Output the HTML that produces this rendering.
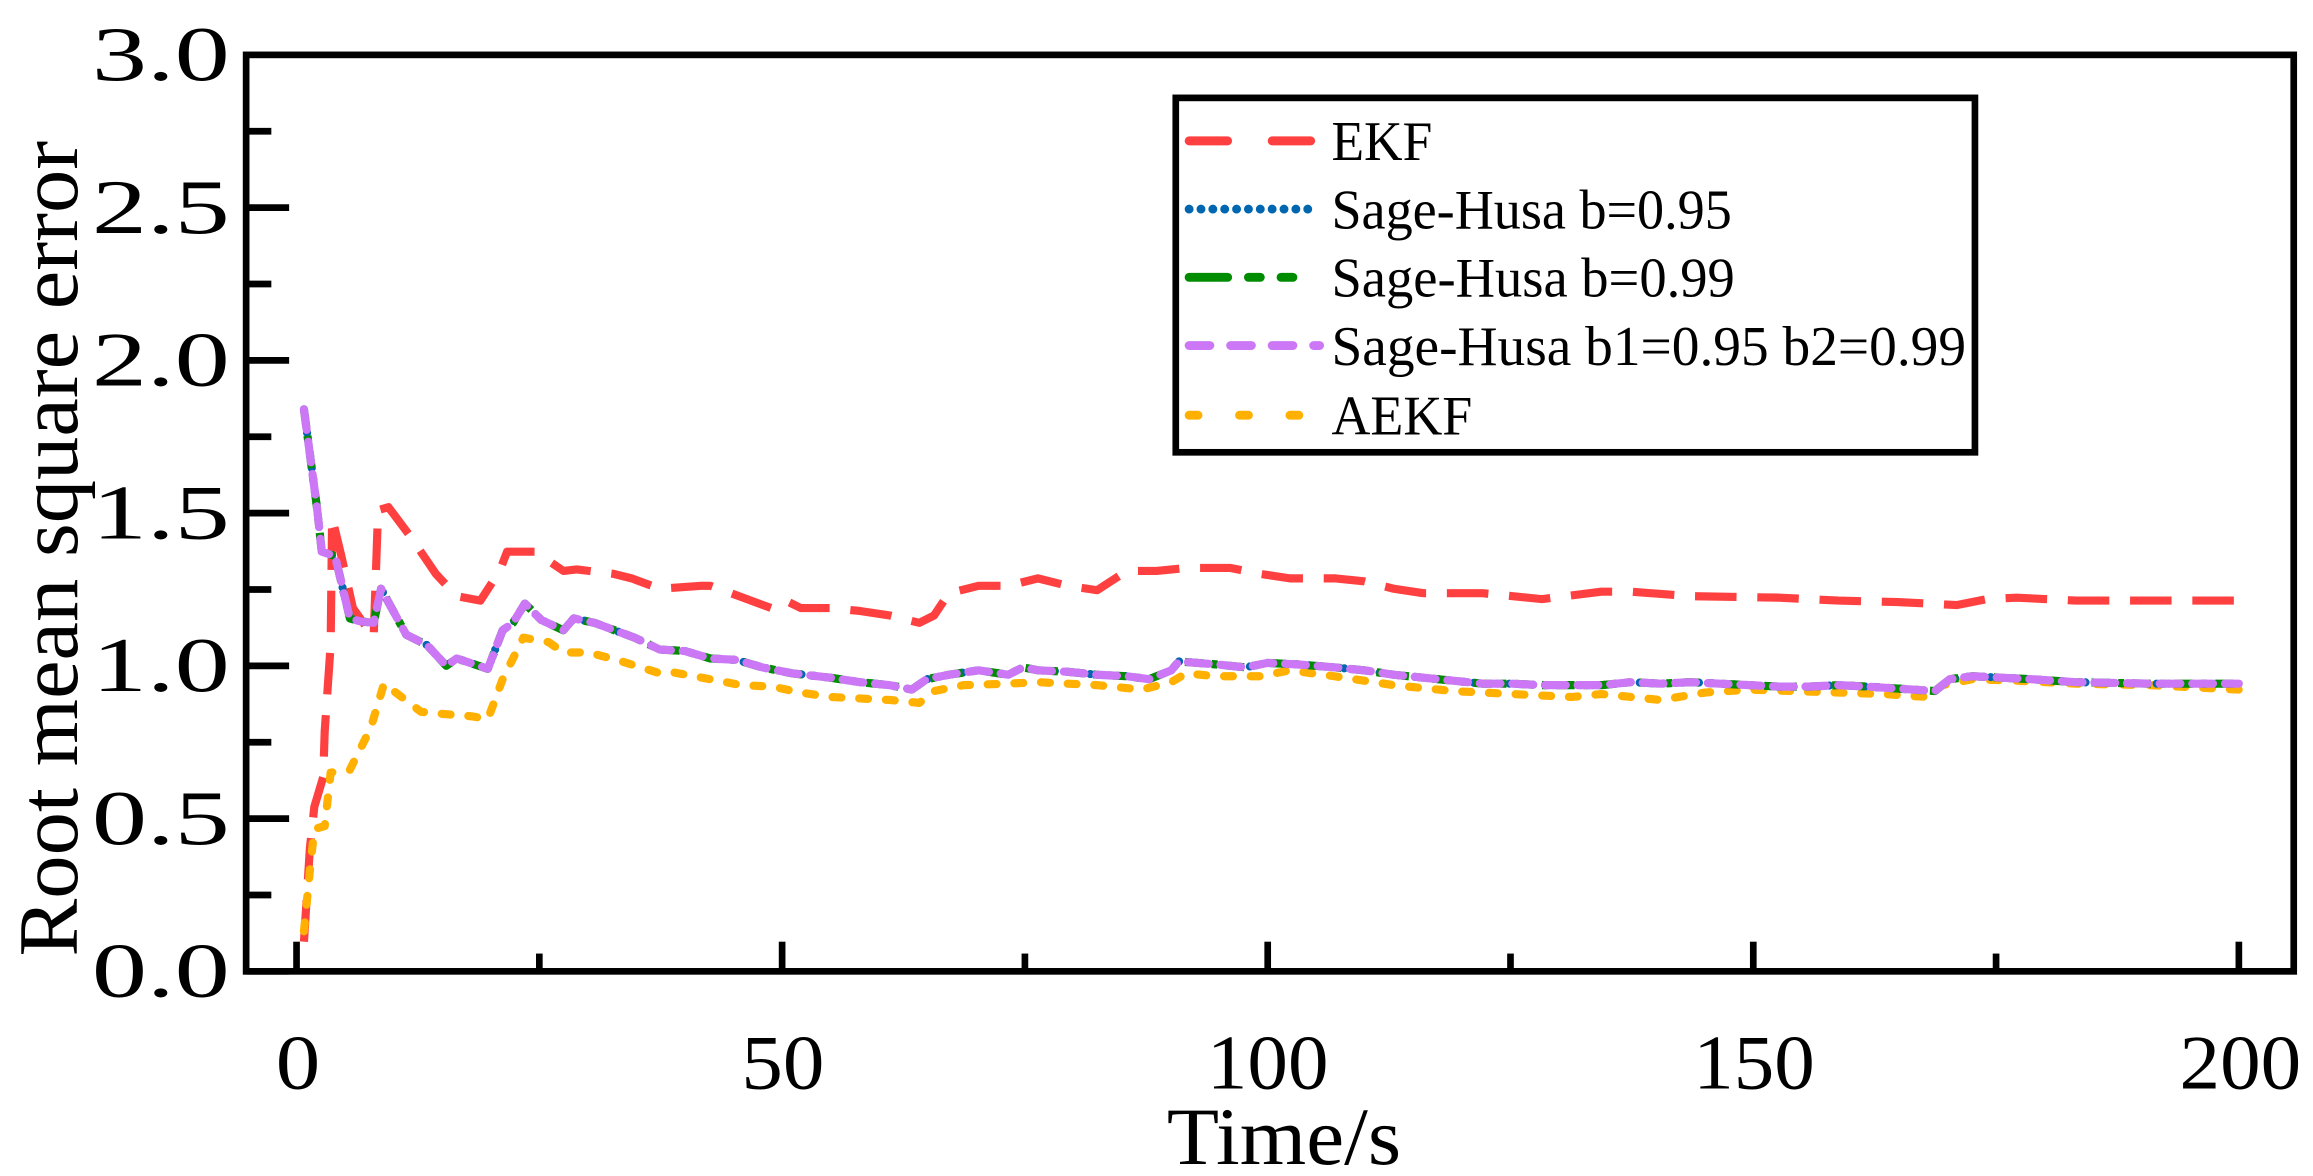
<!DOCTYPE html>
<html><head><meta charset="utf-8"><style>html,body{margin:0;padding:0;background:#fff}svg{display:block}</style></head>
<body>
<svg width="2313" height="1176" viewBox="0 0 1560 793" preserveAspectRatio="none" xmlns="http://www.w3.org/2000/svg" font-family="Liberation Serif, serif">
<rect width="1560" height="793" fill="#fff"/>
<g stroke="#000" stroke-width="4.5">
<line x1="166" y1="655" x2="195" y2="655"/><line x1="166" y1="552" x2="195" y2="552"/><line x1="166" y1="449" x2="195" y2="449"/><line x1="166" y1="346" x2="195" y2="346"/><line x1="166" y1="243" x2="195" y2="243"/><line x1="166" y1="140" x2="195" y2="140"/>
<line x1="166" y1="603.5" x2="183" y2="603.5"/><line x1="166" y1="500.5" x2="183" y2="500.5"/><line x1="166" y1="397.5" x2="183" y2="397.5"/><line x1="166" y1="294.5" x2="183" y2="294.5"/><line x1="166" y1="191.5" x2="183" y2="191.5"/><line x1="166" y1="88.5" x2="183" y2="88.5"/>
<line x1="200" y1="655" x2="200" y2="635"/><line x1="527.5" y1="655" x2="527.5" y2="635"/><line x1="855" y1="655" x2="855" y2="635"/><line x1="1182.5" y1="655" x2="1182.5" y2="635"/><line x1="1510" y1="655" x2="1510" y2="635"/>
<line x1="363.75" y1="655" x2="363.75" y2="643"/><line x1="691.25" y1="655" x2="691.25" y2="643"/><line x1="1018.75" y1="655" x2="1018.75" y2="643"/><line x1="1346.25" y1="655" x2="1346.25" y2="643"/>
</g>
<g font-size="52" fill="#000">
<text x="62" y="672" textLength="93" lengthAdjust="spacingAndGlyphs">0.0</text>
<text x="62" y="569" textLength="93" lengthAdjust="spacingAndGlyphs">0.5</text>
<text x="62" y="466" textLength="93" lengthAdjust="spacingAndGlyphs">1.0</text>
<text x="62" y="363" textLength="93" lengthAdjust="spacingAndGlyphs">1.5</text>
<text x="62" y="260" textLength="93" lengthAdjust="spacingAndGlyphs">2.0</text>
<text x="62" y="157" textLength="93" lengthAdjust="spacingAndGlyphs">2.5</text>
<text x="62" y="54" textLength="93" lengthAdjust="spacingAndGlyphs">3.0</text>
</g>
<g font-size="52" fill="#000">
<text x="186" y="734" textLength="30" lengthAdjust="spacingAndGlyphs">0</text>
<text x="500" y="734" textLength="56" lengthAdjust="spacingAndGlyphs">50</text>
<text x="814" y="734" textLength="82" lengthAdjust="spacingAndGlyphs">100</text>
<text x="1142" y="734" textLength="82" lengthAdjust="spacingAndGlyphs">150</text>
<text x="1470" y="734" textLength="82" lengthAdjust="spacingAndGlyphs">200</text>
<text x="787" y="785" font-size="55" textLength="158" lengthAdjust="spacingAndGlyphs">Time/s</text>
</g>
<text transform="translate(52,370) rotate(-90)" font-size="57" text-anchor="middle" textLength="550" lengthAdjust="spacingAndGlyphs">Root mean square error</text>
<g fill="none" stroke-width="5.5" stroke-linejoin="round">
<polyline stroke="#FF4040" stroke-dasharray="28 14" points="205,635 209,572 212,544 218,524 219,493 223,435 224,349 230,374 238,410 252,430 255,344 262,342 277,362 294,387 308,402 324,405 337,385 342,372 361,372 380,385 389,384 414,387 426,390 445,397 473,395 479,395 493,400 520,410 530,405 540,410 560,410 580,412 600,415 620,420 630,415 640,400 660,395 680,395 700,390 720,395 740,398 760,385 780,385 800,383 830,383 850,387 870,390 900,390 920,392 940,397 960,400 1000,400 1040,404 1080,399 1100,399 1140,402 1200,403 1240,405 1280,406 1300,407 1320,408 1340,404 1360,403 1400,405 1450,405 1510,405"/>
<polyline stroke="#FFB000" stroke-dasharray="6 12" stroke-linecap="round" points="205,628 209,587 212,559 219,557 223,521 236,519 250,491 259,461 284,480 294,481 318,483 329,485 339,458 353,430 370,433 380,440 397,440 416,445 445,454 452,453 479,458 500,462 521,463 540,467 560,470 580,471 600,472 620,474 630,466 650,462 680,461 700,460 740,462 770,465 790,460 800,454 820,456 850,456 870,452 900,456 940,462 980,466 1020,468 1060,470 1080,468 1100,470 1120,472 1150,467 1180,465 1210,466 1240,467 1270,468 1300,470 1310,462 1330,458 1360,459 1400,461 1450,462 1510,465"/>
<polyline stroke="#0066B0" stroke-dasharray="0 8" stroke-linecap="round" points="205,276 214,344 217,372 226,375 236,417 243,419 252,420 257,397 274,428 288,435 301,449 308,444 329,451 339,425 346,420 354,407 365,418 380,425 387,417 401,420 428,430 445,438 462,439 479,444 497,445 514,450 534,454 560,457 580,460 600,462 615,465 625,458 640,455 660,452 680,455 690,450 700,452 720,453 740,455 760,456 775,458 790,452 795,446 820,448 840,450 855,447 875,448 900,450 920,452 940,455 960,457 980,459 1000,461 1020,461 1040,462 1060,462 1080,462 1100,460 1120,461 1140,460 1160,461 1180,462 1200,463 1220,463 1240,462 1260,463 1290,465 1305,466 1315,458 1330,456 1350,457 1370,458 1400,460 1450,461 1510,461"/>
<polyline stroke="#008C00" stroke-dasharray="12 6 4 6" points="205,276 214,344 217,372 226,375 236,417 243,419 252,420 257,397 274,428 288,435 301,449 308,444 329,451 339,425 346,420 354,407 365,418 380,425 387,417 401,420 428,430 445,438 462,439 479,444 497,445 514,450 534,454 560,457 580,460 600,462 615,465 625,458 640,455 660,452 680,455 690,450 700,452 720,453 740,455 760,456 775,458 790,452 795,446 820,448 840,450 855,447 875,448 900,450 920,452 940,455 960,457 980,459 1000,461 1020,461 1040,462 1060,462 1080,462 1100,460 1120,461 1140,460 1160,461 1180,462 1200,463 1220,463 1240,462 1260,463 1290,465 1305,466 1315,458 1330,456 1350,457 1370,458 1400,460 1450,461 1510,461"/>
<polyline stroke="#CC77F5" stroke-dasharray="14 8" stroke-linecap="round" points="205,276 214,344 217,372 226,375 236,417 243,419 252,420 257,397 274,428 288,435 301,449 308,444 329,451 339,425 346,420 354,407 365,418 380,425 387,417 401,420 428,430 445,438 462,439 479,444 497,445 514,450 534,454 560,457 580,460 600,462 615,465 625,458 640,455 660,452 680,455 690,450 700,452 720,453 740,455 760,456 775,458 790,452 795,446 820,448 840,450 855,447 875,448 900,450 920,452 940,455 960,457 980,459 1000,461 1020,461 1040,462 1060,462 1080,462 1100,460 1120,461 1140,460 1160,461 1180,462 1200,463 1220,463 1240,462 1260,463 1290,465 1305,466 1315,458 1330,456 1350,457 1370,458 1400,460 1450,461 1510,461"/>
</g>
<rect x="166" y="37" width="1381" height="618" fill="none" stroke="#000" stroke-width="4.5"/>
<rect x="793" y="66" width="539" height="239" fill="#fff" stroke="#000" stroke-width="4.5"/>
<g stroke-width="6" fill="none">
<line x1="802" y1="95" x2="890" y2="95" stroke="#FF4040" stroke-dasharray="26 30" stroke-linecap="round"/>
<line x1="802" y1="141" x2="890" y2="141" stroke="#0066B0" stroke-dasharray="0 8" stroke-linecap="round"/>
<line x1="802" y1="187" x2="890" y2="187" stroke="#008C00" stroke-dasharray="26 14 8 14 8 20" stroke-linecap="round"/>
<line x1="802" y1="233" x2="890" y2="233" stroke="#CC77F5" stroke-dasharray="14 14" stroke-linecap="round"/>
<line x1="802" y1="280" x2="890" y2="280" stroke="#FFB000" stroke-dasharray="6 28" stroke-linecap="round"/>
</g>
<g font-size="38" fill="#000">
<text x="898" y="108" textLength="68" lengthAdjust="spacingAndGlyphs">EKF</text>
<text x="898" y="154" textLength="270" lengthAdjust="spacingAndGlyphs">Sage-Husa b=0.95</text>
<text x="898" y="200" textLength="272" lengthAdjust="spacingAndGlyphs">Sage-Husa b=0.99</text>
<text x="898" y="246" textLength="428" lengthAdjust="spacingAndGlyphs">Sage-Husa b1=0.95 b2=0.99</text>
<text x="898" y="293" textLength="95" lengthAdjust="spacingAndGlyphs">AEKF</text>
</g>
</svg>
</body></html>
